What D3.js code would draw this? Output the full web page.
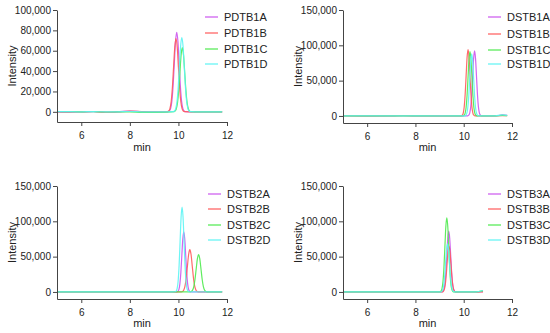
<!DOCTYPE html>
<html><head><meta charset="utf-8">
<script src="https://cdn.jsdelivr.net/npm/d3@7"></script>
<style>
body{margin:0;background:#fff;}
svg{font-family:"Liberation Sans",Arial,sans-serif;}
</style></head>
<body><svg id="c" width="550" height="333"></svg>
<script>
// ---------- DATA ----------
const xTicks = [6, 8, 10, 12];
const yTicks1 = [0, 20000, 40000, 60000, 80000, 100000];
const yTicks2 = [0, 50000, 100000, 150000];

const names1 = ["PDTB1A", "PDTB1B", "PDTB1C", "PDTB1D"];
const names2 = ["DSTB1A", "DSTB1B", "DSTB1C", "DSTB1D"];
const names3 = ["DSTB2A", "DSTB2B", "DSTB2C", "DSTB2D"];
const names4 = ["DSTB3A", "DSTB3B", "DSTB3C", "DSTB3D"];

// Panel 1 (PDTB1) : time (min) and intensity
const p1A_t = [5, 5.5, 6, 6.5, 7, 7.5, 8, 8.5, 9, 9.5, 9.58, 9.63, 9.68, 9.73, 9.78, 9.83, 9.88, 9.93, 9.98, 10.03, 10.08, 10.13, 10.18, 10.23, 10.28, 10.5, 11, 11.5, 11.8];
const p1A_v = [0, -300, -200, 200, -400, 0, 800, 200, 0, 0, 160, 860, 3400, 10500, 25300, 47300, 68900, 78000, 68900, 47300, 25300, 10500, 3400, 860, 160, 0, 0, 0, 0];
const p1B_t = [5, 5.5, 6, 6.5, 7, 7.5, 8, 8.5, 9, 9.45, 9.55, 9.6, 9.65, 9.7, 9.75, 9.8, 9.85, 9.9, 9.95, 10, 10.05, 10.1, 10.15, 10.2, 10.25, 10.5, 11, 11.5, 11.8];
const p1B_v = [0, -200, -100, 300, -300, 0, 600, 200, 0, 0, 144, 790, 3170, 9720, 23400, 43700, 63600, 72000, 63600, 43700, 23400, 9720, 3170, 790, 144, 0, 0, 0, 0];
const p1C_t = [5, 5.5, 6, 6.5, 7, 7.5, 8, 8.5, 9, 9.5, 9.81, 9.86, 9.91, 9.96, 10.01, 10.06, 10.11, 10.16, 10.21, 10.26, 10.31, 10.36, 10.41, 10.46, 10.51, 10.7, 11, 11.5, 11.8];
const p1C_v = [300, 200, 0, 100, -200, -100, 0, -600, -500, -300, 126, 690, 2770, 8500, 20500, 38200, 55600, 63000, 55600, 38200, 20500, 8500, 2770, 690, 126, 0, 0, 0, 0];
const p1D_t = [5, 5.5, 6, 6.5, 7, 7.5, 8, 8.5, 9, 9.5, 9.79, 9.84, 9.89, 9.94, 9.99, 10.04, 10.09, 10.14, 10.19, 10.24, 10.29, 10.34, 10.39, 10.44, 10.49, 10.7, 11, 11.5, 11.8];
const p1D_v = [200, 100, 0, 200, -100, 0, 300, 0, -100, 0, 146, 800, 3210, 9860, 23700, 44300, 64500, 73000, 64500, 44300, 23700, 9860, 3210, 800, 146, 0, 0, 0, 0];

// Panel 2 (DSTB1)
const p2A_t = [5, 6, 7, 7.5, 8, 9, 9.8, 10.17, 10.21, 10.25, 10.29, 10.33, 10.37, 10.41, 10.45, 10.49, 10.53, 10.57, 10.61, 10.65, 10.69, 10.73, 11, 11.4, 11.6, 11.8];
const p2A_v = [300, 200, 0, 500, 0, 0, 0, 184, 1010, 4050, 12400, 29900, 55800, 81200, 92000, 81200, 55800, 29900, 12400, 4050, 1010, 184, 0, 300, 1500, 1000];
const p2B_t = [5, 6, 7, 7.5, 8, 9, 9.6, 9.9, 9.94, 9.98, 10.02, 10.06, 10.1, 10.14, 10.18, 10.22, 10.26, 10.3, 10.34, 10.38, 10.42, 10.46, 10.8, 11.2, 11.6, 11.8];
const p2B_v = [0, -200, 100, 300, -100, 0, 0, 188, 1030, 4140, 12700, 30600, 57100, 83000, 94000, 83000, 57100, 30600, 12700, 4140, 1030, 188, 0, 0, 500, 300];
const p2C_t = [5, 6, 7, 7.5, 8, 9, 9.7, 9.98, 10.02, 10.06, 10.1, 10.14, 10.18, 10.22, 10.26, 10.3, 10.34, 10.38, 10.42, 10.46, 10.5, 10.54, 10.9, 11.3, 11.6, 11.8];
const p2C_v = [200, 0, 200, 0, 100, -100, 0, 182, 1000, 4000, 12300, 29600, 55200, 80400, 91000, 80400, 55200, 29600, 12300, 4000, 1000, 182, 0, 0, 800, 500];
const p2D_t = [5, 6, 7, 7.5, 8, 9, 9.8, 10.05, 10.09, 10.13, 10.17, 10.21, 10.25, 10.29, 10.33, 10.37, 10.41, 10.45, 10.49, 10.53, 10.57, 10.61, 10.9, 11.3, 11.6, 11.8];
const p2D_v = [100, 100, 0, 200, 0, 0, 0, 176, 970, 3870, 11900, 28600, 53400, 77700, 88000, 77700, 53400, 28600, 11900, 3870, 970, 176, 0, 200, 1500, 800];

// Panel 3 (DSTB2)
const p3A_t = [5, 6, 7, 8, 9, 9.6, 9.94, 9.98, 10.02, 10.06, 10.1, 10.14, 10.18, 10.22, 10.26, 10.3, 10.34, 10.38, 10.42, 10.46, 10.5, 10.8, 11.2, 11.8];
const p3A_v = [0, 0, 200, 0, 0, 0, 170, 935, 3740, 11500, 27600, 51600, 75100, 85000, 75100, 51600, 27600, 11500, 3740, 935, 170, 0, 0, 0];
const p3B_t = [5, 6, 7, 8, 9, 9.8, 10.12, 10.17, 10.22, 10.27, 10.32, 10.37, 10.42, 10.47, 10.52, 10.57, 10.62, 10.67, 10.72, 10.77, 10.82, 11.1, 11.5, 11.8];
const p3B_v = [0, 100, 0, 0, 200, 0, 120, 660, 2640, 8100, 19500, 36400, 53000, 60000, 53000, 36400, 19500, 8100, 2640, 660, 120, 0, 0, 0];
const p3C_t = [5, 6, 7, 8, 9, 10, 10.48, 10.53, 10.58, 10.63, 10.68, 10.73, 10.78, 10.83, 10.88, 10.93, 10.98, 11.03, 11.08, 11.13, 11.18, 11.4, 11.6, 11.8];
const p3C_v = [0, 0, 0, 100, 0, 0, 106, 580, 2330, 7160, 17200, 32200, 46800, 53000, 46800, 32200, 17200, 7160, 2330, 580, 106, 0, 0, 0];
const p3D_t = [5, 6, 7, 8, 9, 9.6, 9.87, 9.91, 9.95, 9.99, 10.03, 10.07, 10.11, 10.15, 10.19, 10.23, 10.27, 10.31, 10.35, 10.39, 10.43, 10.8, 11.2, 11.8];
const p3D_v = [0, 0, 0, 0, 0, 0, 240, 1320, 5280, 16200, 39000, 72800, 106000, 120000, 106000, 72800, 39000, 16200, 5280, 1320, 240, 0, 0, 0];

// Panel 4 (DSTB3)
const p4A_t = [5, 6, 7, 8, 8.7, 9.1, 9.14, 9.18, 9.22, 9.26, 9.3, 9.34, 9.38, 9.42, 9.46, 9.5, 9.54, 9.58, 9.62, 9.66, 10, 10.5, 10.8];
const p4A_v = [0, 0, 0, 0, 0, 172, 950, 3780, 11600, 28000, 52200, 75900, 86000, 75900, 52200, 28000, 11600, 3780, 950, 172, 0, 0, 300];
const p4B_t = [5, 6, 7, 8, 8.7, 9.11, 9.15, 9.19, 9.23, 9.27, 9.31, 9.35, 9.39, 9.43, 9.47, 9.51, 9.55, 9.59, 9.63, 9.67, 10, 10.5, 10.8];
const p4B_v = [0, 0, 0, 0, 0, 130, 715, 2860, 8780, 21100, 39500, 57400, 65000, 57400, 39500, 21100, 8780, 2860, 715, 130, 0, 0, 200];
const p4C_t = [5, 6, 7, 8, 8.6, 9.02, 9.06, 9.1, 9.14, 9.18, 9.22, 9.26, 9.3, 9.34, 9.38, 9.42, 9.46, 9.5, 9.54, 9.58, 10, 10.5, 10.8];
const p4C_v = [0, 0, 0, 0, 0, 210, 1160, 4620, 14200, 34100, 63700, 92700, 105000, 92700, 63700, 34100, 14200, 4620, 1160, 210, 0, 0, 1800];
const p4D_t = [5, 6, 7, 8, 8.7, 9.05, 9.09, 9.13, 9.17, 9.21, 9.25, 9.29, 9.33, 9.37, 9.41, 9.45, 9.49, 9.53, 9.57, 9.61, 10, 10.5, 10.8];
const p4D_v = [0, 0, 0, 0, 0, 136, 750, 2990, 9180, 22100, 41300, 60000, 68000, 60000, 41300, 22100, 9180, 2990, 750, 136, 0, 0, 2000];

// ---------- STYLE / LAYOUT ----------
const colors = ["#cc55ee", "#ff5a5a", "#4eea4e", "#5cf4f4"];

const panels = [
  {names: names1, series: [[p1A_t, p1A_v], [p1B_t, p1B_v], [p1C_t, p1C_v], [p1D_t, p1D_v]],
   yMax: 100000, yTicks: yTicks1, x0: 57, x1: 227, yTop: 10, yBot: 122, legX: 205, legY: [17, 33, 49, 64], labX: 12, minY: 151},
  {names: names2, series: [[p2A_t, p2A_v], [p2B_t, p2B_v], [p2C_t, p2C_v], [p2D_t, p2D_v]],
   yMax: 150000, yTicks: yTicks2, x0: 343, x1: 512, yTop: 10, yBot: 123, legX: 488, legY: [17, 34, 50, 64], labX: 298, minY: 151},
  {names: names3, series: [[p3A_t, p3A_v], [p3B_t, p3B_v], [p3C_t, p3C_v], [p3D_t, p3D_v]],
   yMax: 150000, yTicks: yTicks2, x0: 57, x1: 227, yTop: 186, yBot: 299, legX: 208, legY: [194, 209, 225, 240], labX: 12, minY: 327},
  {names: names4, series: [[p4A_t, p4A_v], [p4B_t, p4B_v], [p4C_t, p4C_v], [p4D_t, p4D_v]],
   yMax: 150000, yTicks: yTicks2, x0: 343, x1: 512, yTop: 186, yBot: 299, legX: 488, legY: [194, 209, 225, 240], labX: 298, minY: 327}
];

const svg = d3.select("#c");
const fmt = d3.format(",");

panels.forEach(p => {
  const g = svg.append("g");
  const x = d3.scaleLinear().domain([5, 12]).range([p.x0, p.x1]);
  const y = d3.scaleLinear().domain([-10000, p.yMax]).range([p.yBot, p.yTop]);

  const line = d3.line().x(d => x(d[0])).y(d => y(d[1])).curve(d3.curveMonotoneX);
  p.series.forEach((s, i) => {
    const pts = s[0].map((t, k) => [t, s[1][k]]);
    g.append("path").datum(pts).attr("d", line)
      .attr("fill", "none").attr("stroke", colors[i]).attr("stroke-width", 1.2)
      .attr("stroke-opacity", 0.9);
  });

  const xa = g.append("g").attr("transform", `translate(0,${p.yBot})`)
    .call(d3.axisBottom(x).tickValues(xTicks).tickSize(4).tickSizeOuter(0).tickFormat(d3.format("d")));
  const ya = g.append("g").attr("transform", `translate(${p.x0},0)`)
    .call(d3.axisLeft(y).tickValues(p.yTicks).tickSize(4).tickSizeOuter(0).tickFormat(fmt));
  [xa, ya].forEach(a => {
    a.select(".domain").attr("stroke", "#444");
    a.selectAll(".tick line").attr("stroke", "#444");
    a.selectAll("text").attr("fill", "#222").style("font-size", "10px")
      .style("font-family", '"Liberation Sans",Arial,sans-serif');
  });
  xa.selectAll("text").attr("dy", "0.95em");
  ya.selectAll("text").attr("x", -6);

  g.append("text").attr("x", (p.x0 + p.x1) / 2 - 0).attr("y", p.minY)
    .attr("text-anchor", "middle").style("font-size", "11px").attr("fill", "#222").text("min");
  g.append("text").attr("transform", `translate(${p.labX + 4},${(p.yTop + p.yBot) / 2}) rotate(-90)`)
    .attr("text-anchor", "middle").style("font-size", "11px").attr("fill", "#222").text("Intensity");

  p.names.forEach((n, i) => {
    g.append("line").attr("x1", p.legX).attr("x2", p.legX + 13)
      .attr("y1", p.legY[i]).attr("y2", p.legY[i])
      .attr("stroke", colors[i]).attr("stroke-width", 1.2);
    g.append("text").attr("x", p.legX + 19).attr("y", p.legY[i] + 4)
      .style("font-size", "11px").attr("fill", "#222").text(n);
  });
});
</script></body></html>
